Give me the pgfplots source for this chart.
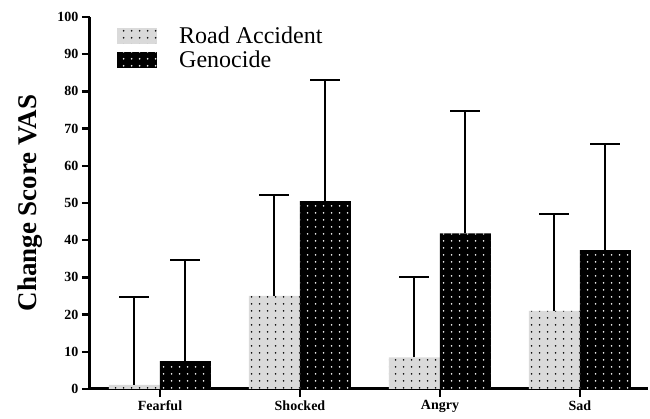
\documentclass[border=0pt]{standalone}
\usepackage{fontspec}
\setmainfont{Liberation Serif}
\usepackage{pgfplots}
\pgfplotsset{compat=1.18}
\usetikzlibrary{patterns.meta}
\tikzdeclarepattern{name=sdots, type=uncolored, bottom left={(0pt,0pt)}, top right={(8pt,7pt)}, tile size={(8pt,7pt)}, code={\fill (4pt,3.5pt) circle (1pt);}}
\definecolor{lightg}{RGB}{218,218,218}
\begin{document}
\begin{tikzpicture}
\useasboundingbox (-90pt,-30pt) rectangle (560pt,389pt);
\begin{axis}[at={(0,0)}, anchor=south west, scale only axis, width=558pt, height=372pt,
 ybar=0pt, bar width=51pt,
 xmin=-0.5, xmax=3.486, ymin=0, ymax=100,
 ytick={0,10,...,100}, xtick={0,1,2,3}, xticklabels={Fearful,Shocked,Angry,Sad},
 axis x line*=bottom, axis y line*=left,
 axis line style={line width=3pt, -},
 tick style={line width=2.5pt, black},
 tick align=outside, major tick length=8pt,
 /pgf/number format/assume math mode=true,
 tick label style={font=\bfseries\fontsize{14}{14}\selectfont},
 ylabel={Change Score VAS},
 every axis y label/.style={at={(axis description cs:-0.1075,0.5)}, rotate=90, anchor=center, font=\bfseries\fontsize{27}{27}\selectfont},
 legend style={at={(0.043,0.985)}, anchor=north west, draw=none, fill=none, font=\fontsize{24}{22}\selectfont, row sep=2pt},
 legend cell align=left,
 legend image code/.code={\path[#1] (0pt,-8pt) rectangle (40pt,8pt);},
 error bars/error bar style={line width=2pt, black},
 error bars/error mark options={line width=2pt, black, mark size=15pt, rotate=90},
]
\addplot[fill=lightg, draw=none, postaction={pattern={sdots}, pattern color=black},
 error bars/.cd, y dir=plus, y explicit]
 coordinates {(0,1.1) +- (0,23.5) (1,25.0) +- (0,27.1) (2,8.5) +- (0,21.7) (3,21.0) +- (0,26.0)};
\addlegendentry{\hspace{20pt}Road Accident}
\addplot[fill=black, draw=none, postaction={pattern={sdots}, pattern color=white},
 error bars/.cd, y dir=plus, y explicit]
 coordinates {(0,7.5) +- (0,27.1) (1,50.5) +- (0,32.6) (2,41.8) +- (0,32.8) (3,37.3) +- (0,28.5)};
\addlegendentry{\hspace{20pt}Genocide}
\end{axis}
\end{tikzpicture}
\end{document}
